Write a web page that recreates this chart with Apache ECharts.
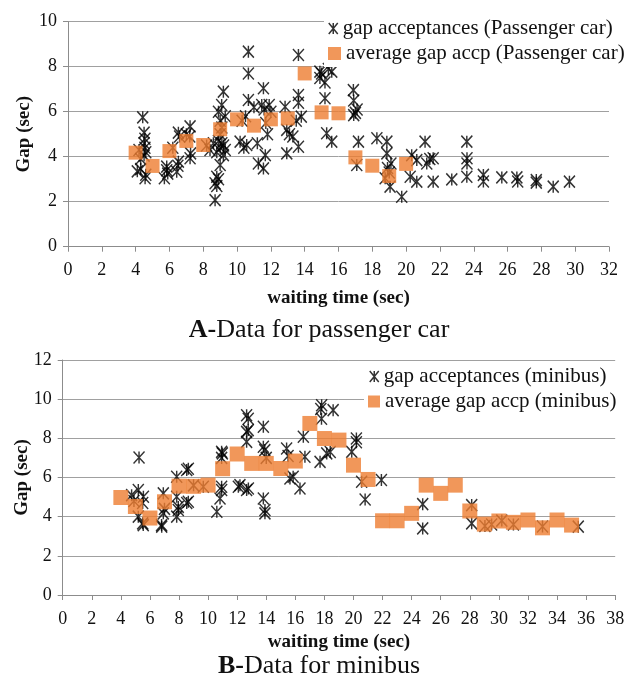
<!DOCTYPE html>
<html>
<head>
<meta charset="utf-8">
<script src="https://cdn.jsdelivr.net/npm/echarts@6/dist/echarts.min.js"></script>
<style>html,body{margin:0;padding:0;background:#fff}#c{width:638px;height:683px}</style>
</head>
<body>
<div id="c"></div>
<script>
// ---- Data ----
const carTicksX = [0, 32, 2];   // min, max, step
const carTicksY = [0, 10, 2];
const busTicksX = [0, 38, 2];
const busTicksY = [0, 12, 2];

const carGap = [
  [4.42,5.75],[4.5,5.07],[4.55,4.8],[4.5,4.6],[4.55,4.4],[4.6,4.2],[4.5,4.05],[4.3,3.9],[4.1,3.35],[4.3,3.45],[4.56,3.04],[4.6,3.2],[4.2,4.3],
  [5.7,3.04],[5.84,3.4],[5.84,3.56],[5.9,3.25],[6.43,3.33],[6.5,3.6],[6.53,3.78],[6.53,5.07],[6.6,4.9],[6.2,4.4],
  [7.22,5.35],[7.2,4.9],[7.22,3.93],[7.25,4.15],[7.0,5.0],
  [8.2,4.5],[8.4,4.3],[8.6,4.6],[8.7,2.07],[8.7,2.82],[8.8,2.7],[8.8,3.11],[8.9,3.0],[9.0,3.63],[9.19,4.07],[8.8,4.2],[9.0,4.4],[9.1,4.6],[8.9,4.7],[9.2,4.5],[9.0,5.0],[9.1,5.3],[9.0,5.6],[8.9,6.0],[9.09,6.3],[9.19,6.89],[9.3,5.8],[9.3,4.3],
  [10.18,4.67],[10.57,4.52],[10.3,5.6],[10.5,5.8],[10.67,6.52],[10.67,7.7],[10.67,8.67],[10.4,4.4],
  [11.0,6.2],[11.2,4.6],[11.26,3.7],[11.56,3.48],[11.67,4.07],[11.46,6.3],[11.56,7.04],[11.9,6.3],[11.7,5.5],[11.8,5.0],[11.6,6.1],[12.0,6.0],
  [12.84,6.22],[12.94,5.19],[12.94,4.15],[13.3,4.9],[13.63,4.44],[13.8,5.78],[13.63,6.4],[13.63,6.74],[13.63,8.52],[13.1,5.0],[13.5,5.6],
  [14.9,7.78],[14.9,7.5],[15.2,6.6],[15.6,7.78],[15.0,7.7],[15.3,5.04],[15.6,4.67],[15.4,7.9],[15.2,7.3],
  [16.88,6.96],[16.9,6.5],[17.0,5.95],[16.9,5.85],[17.1,6.1],[17.18,4.67],[17.08,3.63],
  [18.27,4.82],[18.86,4.67],[18.86,4.15],[19.1,3.7],[18.9,3.5],[18.76,3.04],[19.05,2.67],[19.0,3.3],
  [19.74,2.22],[20.24,3.11],[20.63,2.89],[20.33,4.07],[20.63,3.85],[21.12,4.67],[21.22,3.7],[21.6,3.93],[21.4,3.9],[21.6,2.89],
  [22.7,2.99],[23.59,4.67],[23.6,3.93],[23.6,3.7],[23.59,3.11],[24.57,3.19],[24.57,2.9],[25.66,3.08],[26.55,3.08],[26.6,2.9],[27.7,2.96],[27.7,2.85],[28.7,2.67],[29.66,2.89]
];
const carAvgX = [4,5,6,7,8,9,10,11,12,13,14,15,16,17,18,19,20];
const carAvgY = [4.18,3.59,4.25,4.7,4.52,5.22,5.66,5.38,5.66,5.7,7.7,5.97,5.93,3.97,3.6,3.14,3.68];

const busGap = [
  [4.74,5.1],[5.2,5.36],[5.25,7.02],[5.55,5.02],[5.5,4.7],[5.2,4.0],[5.5,3.66],[5.54,3.57],[4.9,4.8],
  [6.81,3.49],[6.92,4.17],[6.92,5.19],[6.8,3.57],[7.0,4.4],
  [7.84,6.04],[7.84,5.02],[7.95,4.5],[7.84,4.0],[7.95,4.34],
  [8.53,6.38],[8.64,6.45],[8.64,4.76],[8.53,4.7],[9.0,5.6],
  [9.67,5.53],[10.6,4.25],[10.82,4.93],[10.93,5.36],[10.93,5.53],[10.98,7.23],[10.93,7.0],[10.93,7.31],
  [12.08,5.53],[12.19,5.61],[12.65,9.18],[12.65,8.33],[12.65,7.82],[12.77,5.44],[12.65,5.36],[12.76,8.42],[12.76,9.0],
  [13.8,8.59],[13.8,7.57],[13.9,7.4],[13.8,4.93],[13.91,4.17],[13.91,4.34],[14.0,7.0],
  [15.4,7.48],[15.5,7.1],[15.63,5.95],[15.85,6.04],[16.32,5.44],
  [16.55,8.08],[16.66,7.06],[17.7,6.8],[17.81,9.69],[17.75,9.5],[17.8,9.0],[18.6,9.44],[18.16,7.23],[18.4,7.3],
  [19.88,7.31],[20.2,7.99],[20.2,7.8],[20.56,5.78],[20.8,4.88],[21.92,5.87],
  [24.76,4.64],[24.76,3.4],[28.13,4.59],[28.13,3.66],[29.04,3.52],[29.5,3.6],[30.2,3.8],[31.0,3.6],[33.0,3.5],[35.46,3.49]
];
const busAvgX = [4,5,6,7,8,9,10,11,12,13,14,15,16,17,18,19,20,21,22,23,24,25,26,27,28,29,30,31,32,33,34,35];
const busAvgY = [4.98,4.52,3.93,4.76,5.56,5.55,5.61,6.45,7.2,6.72,6.72,6.46,6.84,8.76,7.99,7.91,6.63,5.9,3.79,3.79,4.17,5.61,5.19,5.61,4.29,3.62,3.78,3.71,3.83,3.43,3.83,3.57];

const names = {
  carGap: 'gap acceptances (Passenger car)',
  carAvg: 'average gap accp (Passenger car)',
  busGap: 'gap acceptances (minibus)',
  busAvg: 'average gap accp (minibus)'
};
const titleA = ['A-', 'Data for passenger car'];
const titleB = ['B-', 'Data for minibus'];
const xName = 'waiting time (sec)';
const yName = 'Gap (sec)';

// ---- Styling ----
const FONT = 'Liberation Serif';
const ORANGE = '#ED7D31';
const TXT = '#111';
const STAR = 'path://M0,0L10,12M10,0L0,12M5,0L5,12';
const starStyle = { color: 'rgba(0,0,0,0)', borderColor: '#000', borderWidth: 1.5 };

function zip(xs, ys) { return xs.map((x, i) => [x, ys[i]]); }

function xAxis(gi, t, gap) {
  return {
    type: 'value', gridIndex: gi, min: t[0], max: t[1], interval: t[2],
    name: xName, nameLocation: 'middle', nameGap: gap, nameMoveOverlap: false,
    nameTextStyle: { fontFamily: FONT, fontSize: 19, fontWeight: 'bold', color: TXT },
    axisLine: { show: true, lineStyle: { color: '#8c8c8c', width: 1 } },
    axisTick: { show: true, inside: false, length: 5, lineStyle: { color: '#8c8c8c' } },
    axisLabel: { fontFamily: FONT, fontSize: 18, color: TXT, margin: 15 },
    splitLine: { show: false }
  };
}
function yAxis(gi, t, gap) {
  return {
    type: 'value', gridIndex: gi, min: t[0], max: t[1], interval: t[2],
    name: yName, nameLocation: 'middle', nameGap: gap, nameRotate: 90, nameMoveOverlap: false,
    nameTextStyle: { fontFamily: FONT, fontSize: 19, fontWeight: 'bold', color: TXT },
    axisLine: { show: true, lineStyle: { color: '#8c8c8c', width: 1 } },
    axisTick: { show: true, inside: false, length: 5, lineStyle: { color: '#8c8c8c' } },
    axisLabel: { fontFamily: FONT, fontSize: 18, color: TXT, margin: 11 },
    splitLine: { show: true, lineStyle: { color: '#a0a0a0', width: 1 } }
  };
}
function legend(name, icon, style, w, h, left, top) {
  return {
    data: [{ name: name, icon: icon, itemStyle: style }],
    orient: 'vertical', left: left, top: top, itemWidth: w, itemHeight: h,
    padding: [2, 4, 2, 4], backgroundColor: '#fff',
    textStyle: { fontFamily: FONT, fontSize: 21, color: TXT, lineHeight: 23 },
    selectedMode: false
  };
}
function title(parts, top) {
  return {
    text: '{b|' + parts[0] + '}{n|' + parts[1] + '}', left: 'center', top: top, padding: 0,
    textStyle: { fontWeight: 'normal', rich: {
      b: { fontFamily: FONT, fontSize: 26, fontWeight: 'bold', color: TXT },
      n: { fontFamily: FONT, fontSize: 26, fontWeight: 'normal', color: TXT }
    } }
  };
}

const chart = echarts.init(document.getElementById('c'), null, { renderer: 'canvas' });
chart.setOption({
  backgroundColor: '#fff',
  animation: false,
  title: [title(titleA, 317), title(titleB, 653)],
  grid: [
    { left: 68, top: 21.7, width: 541, height: 225 },
    { left: 62.7, top: 360, width: 552.5, height: 235 }
  ],
  xAxis: [xAxis(0, carTicksX, 42), xAxis(1, busTicksX, 38)],
  yAxis: [yAxis(0, carTicksY, 34), yAxis(1, busTicksY, 31)],
  legend: [
    legend(names.carGap, STAR, starStyle, 9, 11, 324, 15),
    legend(names.carAvg, 'rect', { color: ORANGE }, 13, 13, 324, 40),
    legend(names.busGap, STAR, starStyle, 9, 11, 365, 363),
    legend(names.busAvg, 'rect', { color: ORANGE }, 12, 12, 364, 388)
  ],
  series: [
    { name: names.carGap, type: 'scatter', xAxisIndex: 0, yAxisIndex: 0, data: carGap,
      symbol: STAR, symbolSize: [11, 12], itemStyle: starStyle, z: 2 },
    { name: names.carAvg, type: 'scatter', xAxisIndex: 0, yAxisIndex: 0, data: zip(carAvgX, carAvgY),
      symbol: 'rect', symbolSize: 14, itemStyle: { color: ORANGE }, z: 3 },
    { name: names.busGap, type: 'scatter', xAxisIndex: 1, yAxisIndex: 1, data: busGap,
      symbol: STAR, symbolSize: [11, 12], itemStyle: starStyle, z: 2 },
    { name: names.busAvg, type: 'scatter', xAxisIndex: 1, yAxisIndex: 1, data: zip(busAvgX, busAvgY),
      symbol: 'rect', symbolSize: 15, itemStyle: { color: ORANGE }, z: 3 }
  ]
});
</script>
</body>
</html>
